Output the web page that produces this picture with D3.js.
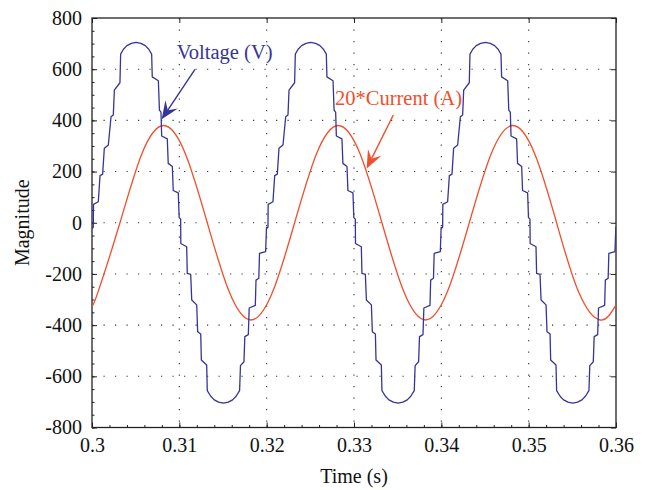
<!DOCTYPE html>
<html>
<head>
<meta charset="utf-8">
<script src="https://cdn.jsdelivr.net/npm/d3@7/dist/d3.min.js"></script>
<style>
    body { margin: 0; background: #fff; }
    #chart { width: 648px; height: 490px; }
</style>
</head>
<body>
<div id="chart"></div>
<script>
// ---- data ----
const xTicks = [0.3, 0.31, 0.32, 0.33, 0.34, 0.35, 0.36];
const xTickLabels = ["0.3", "0.31", "0.32", "0.33", "0.34", "0.35", "0.36"];
const yTicks = [-800, -600, -400, -200, 0, 200, 400, 600, 800];
const yTickLabels = ["-800", "-600", "-400", "-200", "0", "200", "400", "600", "800"];

// the voltage repeats every 20 ms; one period as [ms into period, volts]
const periodStarts = [0.3, 0.32, 0.34];
const voltagePeriod = [
    [0, -22], [0.15, -18], [0.17, 72], [0.72, 82], [0.92, 184], [1.22, 190],
    [1.41, 291], [1.87, 304], [2.18, 414], [2.44, 421], [2.56, 518], [3.2, 547],
    [3.28, 659], [3.6, 678], [4.0, 692], [4.5, 701], [5.05, 705], [5.6, 701],
    [6.1, 692], [6.5, 678], [6.83, 659], [6.9, 570], [7.6, 555], [7.72, 440],
    [7.9, 432], [7.98, 339], [8.62, 328], [8.73, 232], [9.2, 220], [9.3, 126],
    [9.88, 117], [9.98, 20], [10.15, 14],
    [10.17, -81], [10.84, -94], [10.91, -198], [11.3, -202], [11.42, -302],
    [11.99, -321], [12.1, -426], [12.45, -435], [12.52, -536], [13.13, -556],
    [13.2, -656], [13.6, -678], [14.0, -692], [14.5, -701], [15.05, -705],
    [15.6, -701], [16.1, -692], [16.5, -678], [16.9, -656], [17.0, -558],
    [17.4, -543], [17.5, -445], [17.9, -437], [18.0, -333], [18.7, -323],
    [18.78, -224], [19.1, -217], [19.18, -120], [19.88, -113], [19.98, -18],
    [20.0, -22],
];

const currentTimes = [
    0.3, 0.3007, 0.3032, 0.3057, 0.3082, 0.3107, 0.3132, 0.3157, 0.3182,
    0.3207, 0.3232, 0.3257, 0.3282, 0.3307, 0.3332, 0.3357, 0.3382, 0.3407,
    0.3432, 0.3457, 0.3482, 0.3507, 0.3532, 0.3557, 0.3582, 0.36,
];
const currentValues = [
    -325, -269, 0, 269, 380, 269, 0, -269, -380,
    -269, 0, 269, 380, 269, 0, -269, -380, -269,
    0, 269, 380, 269, 0, -269, -380, -321,
];

// annotations: [time, value] in data units
const voltageLabel = { text: "Voltage (V)", at: [0.3097, 640], tail: [0.31179, 599], tip: [0.30798, 404] };
const currentLabel = { text: "20*Current (A)", at: [0.32783, 460], tail: [0.3345, 421], tip: [0.33145, 212] };

const blue = "#34349a";
const red = "#f24e2b";

class WaveVis {
    constructor(el) {
        this.el = el;
        this.voltage = periodStarts.flatMap((s) =>
            voltagePeriod.map((d) => [s + d[0] / 1000, d[1]])
        );
        this.current = currentTimes.map((t, i) => [t, currentValues[i]]);
        this.initVis();
    }

    initVis() {
        const vis = this;

        vis.margin = { top: 18, left: 92, right: 32, bottom: 62.5 };
        vis.width = 648 - vis.margin.left - vis.margin.right;
        vis.height = 490 - vis.margin.top - vis.margin.bottom;

        vis.svg = d3
            .select("#" + vis.el)
            .append("svg")
            .attr("width", 648)
            .attr("height", 490)
            .style("font-family", "'Liberation Serif', 'Times New Roman', serif");

        vis.group = vis.svg
            .append("g")
            .attr("transform", `translate(${vis.margin.left}, ${vis.margin.top})`);

        vis.xScale = d3.scaleLinear().domain([0.3, 0.36]).range([0, vis.width]);
        vis.yScale = d3.scaleLinear().domain([-800, 800]).range([vis.height, 0]);

        vis.svg
            .append("defs")
            .append("clipPath")
            .attr("id", "plotClip")
            .append("rect")
            .attr("width", vis.width)
            .attr("height", vis.height);

        // dotted grid
        vis.group
            .append("g")
            .selectAll("line")
            .data(xTicks.slice(1, -1))
            .join("line")
            .attr("x1", (d) => vis.xScale(d))
            .attr("x2", (d) => vis.xScale(d))
            .attr("y1", 0)
            .attr("y2", vis.height);
        vis.group
            .append("g")
            .selectAll("line")
            .data(yTicks.slice(1, -1))
            .join("line")
            .attr("y1", (d) => vis.yScale(d))
            .attr("y2", (d) => vis.yScale(d))
            .attr("x1", 0)
            .attr("x2", vis.width);
        vis.group
            .selectAll("g line")
            .attr("stroke", "#333")
            .attr("stroke-width", 1.1)
            .attr("stroke-dasharray", "1.2 10.3");

        this.drawAxes();
        this.updateVis();
        this.drawLabels();
    }

    drawAxes() {
        const vis = this;
        const minorX = d3.range(0.3, 0.3601, 0.002);
        const minorY = d3.range(-800, 801, 50);

        const styleAxis = (g) => {
            g.select(".domain").remove();
            g.selectAll("line").attr("stroke", "#222");
            g.selectAll("text")
                .attr("fill", "#111")
                .style("font-size", "20px")
                .style("font-family", "'Liberation Serif', serif");
        };

        const xFmt = (d, i) => xTickLabels[i];
        const yFmt = (d, i) => yTickLabels[i];

        vis.group
            .append("g")
            .attr("transform", `translate(0,${vis.height})`)
            .call(d3.axisBottom(vis.xScale).tickValues(xTicks).tickFormat(xFmt)
                .tickSizeInner(-5).tickSizeOuter(0).tickPadding(10))
            .call(styleAxis);
        vis.group
            .append("g")
            .call(d3.axisLeft(vis.yScale).tickValues(yTicks).tickFormat(yFmt)
                .tickSizeInner(-5).tickSizeOuter(0).tickPadding(10))
            .call(styleAxis);
        vis.group
            .append("g")
            .call(d3.axisTop(vis.xScale).tickValues(xTicks).tickFormat("")
                .tickSizeInner(-5).tickSizeOuter(0))
            .call(styleAxis);
        vis.group
            .append("g")
            .attr("transform", `translate(${vis.width},0)`)
            .call(d3.axisRight(vis.yScale).tickValues(yTicks).tickFormat("")
                .tickSizeInner(-5).tickSizeOuter(0))
            .call(styleAxis);

        // minor ticks
        vis.group
            .append("g")
            .attr("transform", `translate(0,${vis.height})`)
            .call(d3.axisBottom(vis.xScale).tickValues(minorX).tickFormat("")
                .tickSizeInner(-2.5).tickSizeOuter(0))
            .call(styleAxis);
        vis.group
            .append("g")
            .call(d3.axisLeft(vis.yScale).tickValues(minorY).tickFormat("")
                .tickSizeInner(-2.5).tickSizeOuter(0))
            .call(styleAxis);

        vis.group
            .append("rect")
            .attr("width", vis.width)
            .attr("height", vis.height)
            .attr("fill", "none")
            .attr("stroke", "#222")
            .attr("stroke-width", 1.3);

        vis.svg
            .append("text")
            .attr("x", vis.margin.left + vis.width / 2)
            .attr("y", 483)
            .attr("text-anchor", "middle")
            .style("font-size", "20px")
            .attr("fill", "#111")
            .text("Time (s)");

        vis.svg
            .append("text")
            .attr("transform", `translate(28.5, ${vis.margin.top + vis.height / 2}) rotate(-90)`)
            .attr("text-anchor", "middle")
            .style("font-size", "20px")
            .attr("fill", "#111")
            .text("Magnitude");
    }

    updateVis() {
        const vis = this;

        const voltageLine = d3
            .line()
            .x((d) => vis.xScale(d[0]))
            .y((d) => vis.yScale(d[1]));

        const currentLine = d3
            .line()
            .curve(d3.curveNatural)
            .x((d) => vis.xScale(d[0]))
            .y((d) => vis.yScale(d[1]));

        const plot = vis.group.append("g").attr("clip-path", "url(#plotClip)");

        plot.append("path")
            .attr("d", currentLine(vis.current))
            .attr("fill", "none")
            .attr("stroke", red)
            .attr("stroke-width", 1.3);

        plot.append("path")
            .attr("d", voltageLine(vis.voltage))
            .attr("fill", "none")
            .attr("stroke", blue)
            .attr("stroke-width", 1.3)
            .attr("stroke-linejoin", "round");
    }

    drawArrow(lbl, color) {
        const vis = this;
        const x0 = vis.xScale(lbl.tail[0]), y0 = vis.yScale(lbl.tail[1]);
        const x1 = vis.xScale(lbl.tip[0]), y1 = vis.yScale(lbl.tip[1]);
        const len = Math.hypot(x1 - x0, y1 - y0);
        const ux = (x1 - x0) / len, uy = (y1 - y0) / len;
        const px = -uy, py = ux;
        const headL = 18, headW = 7.5, notch = 11;

        vis.group.append("line")
            .attr("x1", x0).attr("y1", y0)
            .attr("x2", x1 - ux * notch).attr("y2", y1 - uy * notch)
            .attr("stroke", color)
            .attr("stroke-width", 1.4);

        const pts = [
            [x1, y1],
            [x1 - ux * headL + px * headW, y1 - uy * headL + py * headW],
            [x1 - ux * notch, y1 - uy * notch],
            [x1 - ux * headL - px * headW, y1 - uy * headL - py * headW],
        ];
        vis.group.append("path")
            .attr("d", "M" + pts.map((p) => p.join(",")).join("L") + "Z")
            .attr("fill", color);

        vis.group.append("text")
            .attr("x", vis.xScale(lbl.at[0]))
            .attr("y", vis.yScale(lbl.at[1]))
            .attr("fill", color)
            .style("font-size", "20.5px")
            .text(lbl.text);
    }

    drawLabels() {
        this.drawArrow(voltageLabel, blue);
        this.drawArrow(currentLabel, red);
    }
}

new WaveVis("chart");
</script>
</body>
</html>
